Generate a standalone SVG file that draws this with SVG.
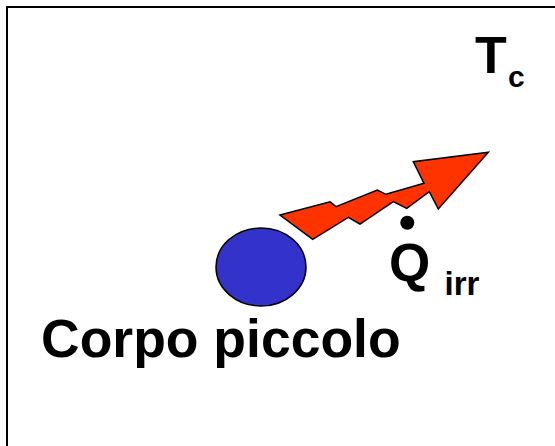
<svg xmlns="http://www.w3.org/2000/svg" width="555" height="446" viewBox="0 0 555 446">
  <style>
    .lbl { font-family: "Liberation Sans", Arial, sans-serif; font-weight: bold; fill: #000; }
    .frame { fill: none; stroke: #000; stroke-width: 2; }
  </style>
  <rect width="555" height="446" fill="#fff"/>
  <!-- open frame running off the right and bottom edges -->
  <rect class="frame" x="7" y="7" width="560" height="450"/>

  <g id="heat-flow">
    <polygon points="280,215 330,201.7 336,206.7 377.3,190 386,194.3 424,183.3 413.3,161.7 488.3,152.3 438.3,209 429.3,191.7 406.7,208.3 393.3,201.7 360,224 348.3,217.3 312.7,239.3" fill="#FF3300" stroke="#000" stroke-width="1.5" stroke-linejoin="miter"/>
  </g>

  <g id="body">
    <ellipse cx="261" cy="267" rx="45" ry="39" fill="#3333CC" stroke="#000" stroke-width="1.5"/>
    <text class="lbl" x="41" y="357" font-size="53.5">Corpo piccolo</text>
  </g>

  <g id="q-irr">
    <circle cx="407.3" cy="222.7" r="7" fill="#000"/>
    <text class="lbl" x="389" y="281" font-size="53">Q</text>
    <text class="lbl" x="444.5" y="295" font-size="33">irr</text>
  </g>

  <g id="tc">
    <text class="lbl" x="475" y="73" font-size="52">T</text>
    <text class="lbl" x="508" y="87" font-size="30">c</text>
  </g>
</svg>
